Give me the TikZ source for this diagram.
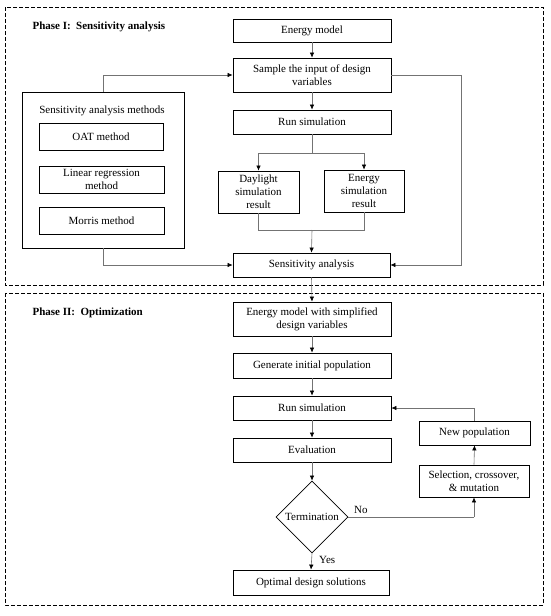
\documentclass[tikz,border=0pt]{standalone}
\usepackage{fontspec}
\setmainfont{Liberation Serif}
\usetikzlibrary{arrows.meta,shapes.geometric}
\begin{document}
\begin{tikzpicture}[x=1pt,y=-1pt,
  every node/.style={font=\fontsize{11}{13}\selectfont},
  box/.style={draw=black,line width=0.8pt,rectangle,inner sep=1pt,align=center},
  phase/.style={draw=black,line width=1pt,dash pattern=on 4pt off 2pt},
  conn/.style={draw=black!55,line width=0.6pt},
  arr/.style={conn,-{Latex[length=5pt,width=4.5pt,color=black]}},
  title/.style={anchor=west,font=\fontsize{11}{13}\selectfont\bfseries},
  lbl/.style={font=\fontsize{11}{13}\selectfont}]
\useasboundingbox (0,0) rectangle (550,616);
% phase frames
\draw[phase] (5,7) rectangle (543,285);
\draw[phase] (5,293) rectangle (543,605);
\node[title] (t1) at (29,27) {Phase I:\ \ Sensitivity analysis};
\node[title] (t2) at (29,313) {Phase II:\ \ Optimization};
% phase I nodes
\node[box,minimum width=158pt,minimum height=23pt] (em) at (312,30.5) {Energy model};
\node[box,minimum width=158pt,minimum height=34pt] (samp) at (312,75) {Sample the input of design\\variables};
\node[box,minimum width=158pt,minimum height=24pt] (run1) at (312,122) {Run simulation};
\node[box,minimum width=81pt,minimum height=42pt] (day) at (258.5,192) {Daylight\\simulation\\result};
\node[box,minimum width=80pt,minimum height=42pt] (ensim) at (364,191) {Energy\\simulation\\result};
\node[box,minimum width=157pt,minimum height=24pt] (sa) at (311.5,265) {Sensitivity analysis};
\node[box,minimum width=162pt,minimum height=156pt] (methods) at (103,170) {};
\node[lbl] (mlabel) at (102,111) {Sensitivity analysis methods};
\node[box,minimum width=124pt,minimum height=27pt] (oat) at (101,136.5) {OAT method};
\node[box,minimum width=125pt,minimum height=27pt] (lin) at (101.5,179.5) {Linear regression\\method};
\node[box,minimum width=125pt,minimum height=27pt] (mor) at (101.5,220.5) {Morris method};
% phase II nodes
\node[box,minimum width=158pt,minimum height=34pt] (em2) at (312,319) {Energy model with simplified\\design variables};
\node[box,minimum width=158pt,minimum height=25pt] (gen) at (312,365.5) {Generate initial population};
\node[box,minimum width=158pt,minimum height=24pt] (run2) at (312,408) {Run simulation};
\node[box,minimum width=158pt,minimum height=24pt] (eval) at (312,450) {Evaluation};
\node[draw=black,line width=0.8pt,diamond,aspect=1,minimum size=72pt,inner sep=0pt] (term) at (312,517) {Termination};
\node[box,minimum width=156pt,minimum height=25pt] (opt) at (311,582.5) {Optimal design solutions};
\node[box,minimum width=111pt,minimum height=24pt] (newpop) at (474.5,433) {New population};
\node[box,minimum width=110pt,minimum height=32pt] (sel) at (474,481) {Selection, crossover,\\\& mutation};
% coordinates
\coordinate (j1) at (312,153);
\coordinate (j2) at (312,230);
\coordinate (r1) at (461,75);
\coordinate (r2) at (461,265);
\coordinate (b1) at (474,517);
% phase I connectors
\draw[arr] (em.south) -- (samp.north);
\draw[arr] (samp.south) -- (run1.north);
\draw[conn] (run1.south) -- (j1);
\draw[arr] (j1) -| (day.north);
\draw[arr] (j1) -| (ensim.north);
\draw[conn] (day.south) |- (j2);
\draw[conn] (ensim.south) |- (j2);
\draw[arr] (j2) -- (sa.north);
\draw[arr] (methods.north) |- (samp.west);
\draw[arr] (methods.south) |- (sa.west);
\draw[arr] (samp.east) -- (r1) -- (r2) -- (sa.east);
\draw[arr] (sa.south) -- (em2.north);
% phase II connectors
\draw[arr] (em2.south) -- (gen.north);
\draw[arr] (gen.south) -- (run2.north);
\draw[arr] (run2.south) -- (eval.north);
\draw[arr] (eval.south) -- (term.north);
\draw[arr] (term.south) -- node[lbl,right,pos=0.4,xshift=4pt] (yes) {Yes} (opt.north);
\draw[conn] (term.east) -- node[lbl,above,pos=0.1] (no) {No} (b1);
\draw[arr] (b1) -- (sel.south);
\draw[arr] (sel.north) -- (newpop.south);
\draw[arr] (newpop.north) |- (run2.east);
\end{tikzpicture}
\end{document}
